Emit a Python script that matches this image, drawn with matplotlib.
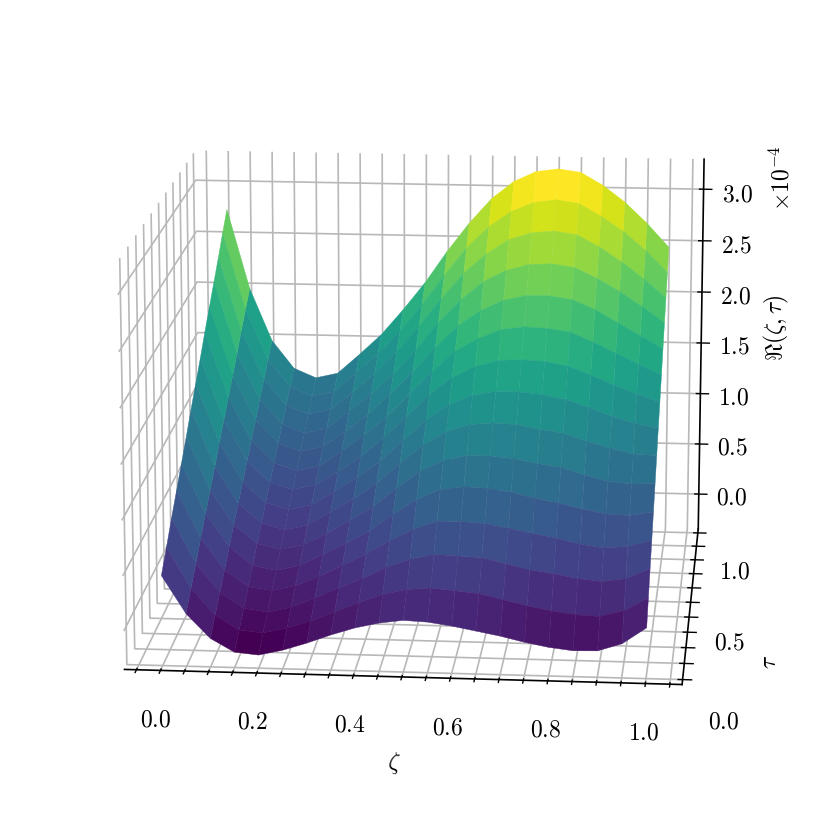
import numpy as np
import matplotlib
matplotlib.use('Agg')
import matplotlib.pyplot as plt

plt.rcParams['mathtext.fontset'] = 'cm'
plt.rcParams['font.family'] = 'serif'
plt.rcParams['font.size'] = 17

# grid of the surface
zeta = [0.0, 0.05, 0.1, 0.15, 0.2, 0.25, 0.3, 0.35, 0.4, 0.45, 0.5,
        0.55, 0.6, 0.65, 0.7, 0.75, 0.8, 0.85, 0.9, 0.95, 1.0]
tau = [0.0, 1/14, 2/14, 3/14, 4/14, 5/14, 6/14, 7/14, 8/14, 9/14, 10/14,
       11/14, 12/14, 13/14, 1.0]

# values in units of 1e-4, one list per zeta, going from tau=0 to tau=1
r_vals = [
    [.47, .63, .80, .96, 1.12, 1.28, 1.45, 1.61, 1.77, 1.94, 2.10, 2.26, 2.42, 2.59, 2.75],
    [.13, .26, .39, .53, .66, .79, .92, 1.06, 1.19, 1.32, 1.45, 1.58, 1.72, 1.85, 1.98],
    [-.09, .02, .13, .24, .36, .47, .58, .69, .80, .91, 1.02, 1.14, 1.25, 1.36, 1.47],
    [-.21, -.11, -.01, .09, .19, .30, .40, .50, .60, .70, .80, .90, 1.00, 1.10, 1.20],
    [-.23, -.13, -.04, .06, .15, .25, .34, .44, .54, .63, .73, .82, .92, 1.01, 1.11],
    [-.18, -.08, .01, .11, .20, .30, .39, .49, .59, .68, .78, .87, .97, 1.06, 1.16],
    [-.11, -.01, .10, .20, .31, .41, .52, .62, .72, .83, .93, 1.04, 1.14, 1.25, 1.35],
    [-.03, .08, .20, .31, .42, .54, .65, .76, .87, .99, 1.10, 1.21, 1.33, 1.44, 1.55],
    [.04, .17, .29, .42, .54, .67, .80, .92, 1.05, 1.17, 1.30, 1.42, 1.55, 1.67, 1.80],
    [.09, .25, .40, .55, .70, .85, .99, 1.12, 1.26, 1.39, 1.52, 1.65, 1.80, 1.93, 2.07],
    [.12, .30, .48, .66, .84, 1.01, 1.17, 1.32, 1.47, 1.61, 1.76, 1.92, 2.07, 2.22, 2.38],
    [.11, .32, .53, .74, .94, 1.12, 1.30, 1.47, 1.64, 1.81, 1.97, 2.14, 2.32, 2.49, 2.66],
    [.08, .30, .52, .74, .97, 1.17, 1.37, 1.56, 1.75, 1.93, 2.12, 2.32, 2.51, 2.70, 2.90],
    [.04, .28, .51, .73, .96, 1.17, 1.39, 1.60, 1.81, 2.02, 2.22, 2.43, 2.65, 2.85, 3.07],
    [0.0, .23, .46, .69, .93, 1.15, 1.38, 1.60, 1.82, 2.05, 2.27, 2.49, 2.72, 2.94, 3.17],
    [-.05, .18, .41, .65, .88, 1.11, 1.34, 1.58, 1.81, 2.04, 2.27, 2.50, 2.74, 2.97, 3.20],
    [-.09, .14, .38, .61, .84, 1.08, 1.31, 1.54, 1.77, 2.01, 2.24, 2.47, 2.71, 2.94, 3.17],
    [-.115, .11, .34, .56, .79, 1.015, 1.24, 1.47, 1.69, 1.92, 2.15, 2.37, 2.60, 2.82, 3.05],
    [-.11, .10, .32, .53, .75, .96, 1.18, 1.39, 1.60, 1.82, 2.03, 2.25, 2.46, 2.68, 2.89],
    [-.04, .16, .35, .55, .74, .94, 1.13, 1.33, 1.52, 1.72, 1.91, 2.11, 2.30, 2.50, 2.69],
    [.11, .28, .45, .61, .78, .95, 1.12, 1.29, 1.45, 1.62, 1.79, 1.96, 2.12, 2.29, 2.46],
]

x_ticks = [-0.05, 0.0, 0.05, 0.1, 0.15, 0.2, 0.25, 0.3, 0.35, 0.4, 0.45, 0.5,
           0.55, 0.6, 0.65, 0.7, 0.75, 0.8, 0.85, 0.9, 0.95, 1.0, 1.05]
x_labels = ['', '$0.0$', '', '', '', '$0.2$', '', '', '', '$0.4$', '', '',
            '', '$0.6$', '', '', '', '$0.8$', '', '', '', '$1.0$', '']
y_ticks = [0.0, 0.1, 0.2, 0.3, 0.4, 0.5, 0.6, 0.7, 0.8, 0.9, 1.0]
y_labels = ['$0.0$', '', '', '', '', '$0.5$', '', '', '', '', '$1.0$']
z_ticks = [0.0, 0.5, 1.0, 1.5, 2.0, 2.5, 3.0]
z_labels = ['$0.0$', '$0.5$', '$1.0$', '$1.5$', '$2.0$', '$2.5$', '$3.0$']

fig = plt.figure(figsize=(8.3, 8.3), dpi=100)
ax = fig.add_axes([0, 0, 1, 1], projection='3d')
ax.view_init(elev=14.5, azim=-85)

Z = np.array(r_vals)
T, X = np.meshgrid(tau, zeta)
surf = ax.plot_surface(X, T, Z, cmap='viridis', rstride=1, cstride=1,
                       linewidth=0.3, antialiased=True)
surf.set_edgecolor('face')

ax.set_xlim(-0.075, 1.075)
ax.set_ylim(-0.03, 1.03)
ax.set_zlim(-0.35, 3.29)

ax.set_xticks(x_ticks)
ax.set_xticklabels(x_labels)
ax.set_yticks(y_ticks)
ax.set_yticklabels(y_labels)
ax.set_zticks(z_ticks)
ax.set_zticklabels(z_labels)

for axis in [ax.xaxis, ax.yaxis, ax.zaxis]:
    axis.set_pane_color((1, 1, 1, 0))
    axis.line.set_color('black')
    axis.line.set_linewidth(1.2)
    axis._axinfo['grid']['color'] = '#b8b8b8'
    axis._axinfo['grid']['linewidth'] = 1.2
    axis._axinfo['tick']['linewidth'] = {True: 1.0, False: 0.6}

ax.tick_params(axis='x', pad=12.5)
ax.tick_params(axis='y', pad=15)
ax.tick_params(axis='z', pad=12)

ax.set_xlabel(r'$\zeta$', labelpad=25)
ax.yaxis.set_rotate_label(False)
ax.set_ylabel(r'$\tau$', labelpad=26, rotation=90)

# z label and offset sit beside the axis, placed by hand
fig.text(776 / 830, 1 - 328 / 830, r'$\Re(\zeta,\tau)$', rotation=90, ha='center', va='center', fontsize=17)
fig.text(782 / 830, 1 - 178 / 830, r'$\times 10^{-4}$', rotation=90, ha='center', va='center', fontsize=17)

fig.savefig('out.png', dpi=100)
